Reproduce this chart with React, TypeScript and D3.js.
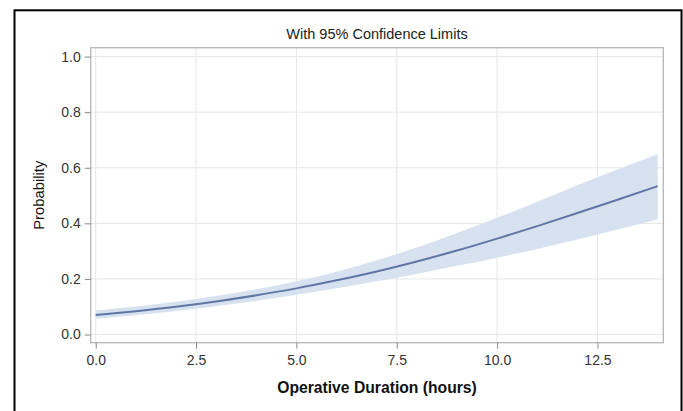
import React, { useRef, useEffect } from "react";
import * as d3 from "d3";

const hours = [0, 1, 2, 3, 4, 5, 6, 7, 8, 9, 10, 11, 12, 13, 14];
const prob = [0.07, 0.084, 0.1, 0.119, 0.141, 0.166, 0.195, 0.227, 0.263, 0.302, 0.345, 0.39, 0.437, 0.485, 0.534];
const upper = [0.086, 0.1005, 0.118, 0.1385, 0.163, 0.192, 0.226, 0.267, 0.313, 0.365, 0.42, 0.478, 0.537, 0.594, 0.649];
const lower = [0.057, 0.0696, 0.0846, 0.1017, 0.1215, 0.1432, 0.1665, 0.1916, 0.218, 0.247, 0.2765, 0.308, 0.342, 0.378, 0.415];
const xTicks = [0, 2.5, 5, 7.5, 10, 12.5];
const yTicks = [0, 0.2, 0.4, 0.6, 0.8, 1.0];

function App() {
    const svgRef = useRef<SVGSVGElement>(null);

    useEffect(() => {
        const svg = d3.select(svgRef.current);
        svg.selectAll("*").remove();
        const width = 683;
        const height = 411;
        const plot = { left: 90.7, right: 663.3, top: 47.7, bottom: 342.7 };
        const font = "'Liberation Sans', Arial, sans-serif";

        const x = d3.scaleLinear().domain([-0.125, 14.14]).range([plot.left, plot.right]);
        const y = d3.scaleLinear().domain([-0.0295, 1.032]).range([plot.bottom, plot.top]);

        svg.append("rect").attr("width", width).attr("height", height).attr("fill", "#fff");
        // outer frame
        svg.append("rect")
            .attr("x", 14.5).attr("y", 10.3).attr("width", 667).attr("height", 420)
            .attr("fill", "none").attr("stroke", "#000").attr("stroke-width", 2);

        const g = svg.append("g");

        // grid
        g.selectAll(".vgrid").data(xTicks).enter().append("line")
            .attr("x1", (d) => x(d)).attr("x2", (d) => x(d))
            .attr("y1", plot.top).attr("y2", plot.bottom)
            .attr("stroke", "#e6e6e6").attr("stroke-width", 1);
        g.selectAll(".hgrid").data(yTicks).enter().append("line")
            .attr("x1", plot.left).attr("x2", plot.right)
            .attr("y1", (d) => y(d)).attr("y2", (d) => y(d))
            .attr("stroke", "#e6e6e6").attr("stroke-width", 1);

        const pts = hours.map((h, i) => ({ h, p: prob[i], lo: lower[i], hi: upper[i] }));

        const band = d3.area<any>()
            .x((d) => x(d.h)).y0((d) => y(d.lo)).y1((d) => y(d.hi))
            .curve(d3.curveMonotoneX);
        g.append("path").datum(pts).attr("d", band).attr("fill", "#d7e2f1");

        const line = d3.line<any>().x((d) => x(d.h)).y((d) => y(d.p)).curve(d3.curveMonotoneX);
        g.append("path").datum(pts).attr("d", line)
            .attr("fill", "none").attr("stroke", "#5f77a3").attr("stroke-width", 2);

        // plot frame
        g.append("rect")
            .attr("x", plot.left).attr("y", plot.top)
            .attr("width", plot.right - plot.left).attr("height", plot.bottom - plot.top)
            .attr("fill", "none").attr("stroke", "#b5b5b5").attr("stroke-width", 1.3);

        // axes
        const xAxis = d3.axisBottom(x).tickValues(xTicks).tickFormat(d3.format(".1f")).tickSize(6).tickPadding(6);
        const yAxis = d3.axisLeft(y).tickValues(yTicks).tickFormat(d3.format(".1f")).tickSize(6).tickPadding(4);

        const gx = svg.append("g").attr("transform", `translate(0,${plot.bottom})`).call(xAxis);
        const gy = svg.append("g").attr("transform", `translate(${plot.left},0)`).call(yAxis);
        [gx, gy].forEach((ax) => {
            ax.select(".domain").remove();
            ax.selectAll(".tick line").attr("stroke", "#888");
            ax.selectAll(".tick text")
                .attr("fill", "#333").style("font-family", font).style("font-size", "14px");
        });

        svg.append("text")
            .attr("x", (plot.left + plot.right) / 2).attr("y", 39)
            .attr("text-anchor", "middle")
            .style("font-family", font).style("font-size", "14.5px").attr("fill", "#222")
            .text("With 95% Confidence Limits");

        svg.append("text")
            .attr("x", (plot.left + plot.right) / 2).attr("y", 392.5)
            .attr("text-anchor", "middle")
            .style("font-family", font).style("font-size", "15.7px").style("font-weight", "bold").attr("fill", "#111")
            .text("Operative Duration (hours)");

        svg.append("text")
            .attr("transform", `translate(43.5,${(plot.top + plot.bottom) / 2}) rotate(-90)`)
            .attr("text-anchor", "middle")
            .style("font-family", font).style("font-size", "14.8px").attr("fill", "#111")
            .text("Probability");
    }, []);

    return (
        <svg ref={svgRef} width={683} height={411} style={{ position: "absolute", left: 0, top: 0 }}></svg>
    );
}

export default App;
